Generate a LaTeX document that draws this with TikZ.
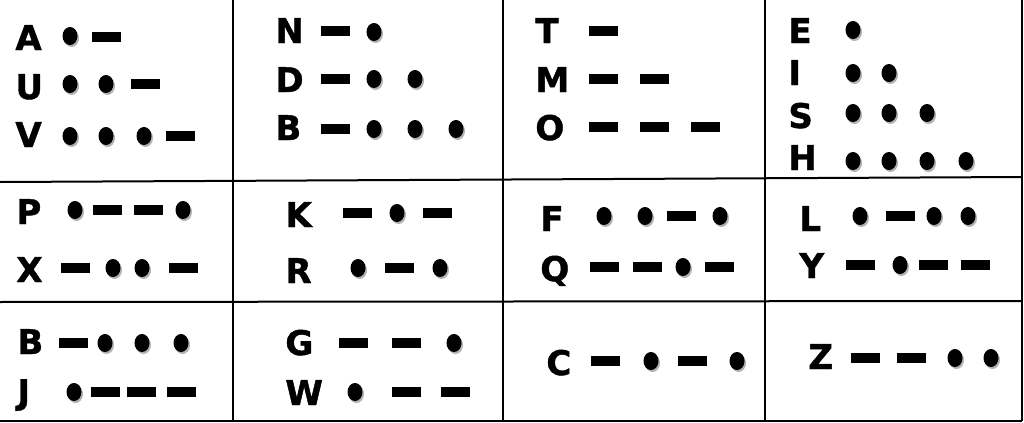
\documentclass[tikz,border=0pt]{standalone}
\usepackage{fontspec}
\newfontfamily\morsefont[BoldFeatures={FakeBold=1.3}]{DejaVu Sans}
\usepackage{tikz}

\begin{document}
\begin{tikzpicture}[x=0.5pt, y=-0.5pt]

\def\rx{7.5}  % half width of a dot
\def\ry{9.0}  % half height of a dot
\def\dl{14.5} % half length of a dash
\def\dh{5.0}  % half thickness of a dash

\tikzset{mdot/.pic = {\fill[black!30] (1.5, 2.0) ellipse [x radius=\rx, y radius=\ry];
                      \fill[black]    (0, 0) ellipse [x radius=\rx, y radius=\ry]; }
        }

\tikzset{mdash/.pic = {\fill[black] (-\dl, -\dh) rectangle (\dl, \dh); }
        }

\tikzset{key/.style = {font={\morsefont\bfseries\fontsize{17}{18}\selectfont},
                       inner sep=0pt, anchor=base west}
        }

\useasboundingbox (0, 0) rectangle (1024, 423);

% grid
\draw[line width=1pt] (233, 0) -- (233, 421);
\draw[line width=1pt] (503, 0) -- (503, 421);
\draw[line width=1pt] (765, 0) -- (765, 421);
\draw[line width=1pt] (1022, 0) -- (1022, 421);
\draw[line width=1pt] (0, 182) -- (1022, 177);
\draw[line width=1pt] (0, 302) -- (1022, 301);
\draw[line width=1pt] (0, 421) -- (1022, 421);

% first row
\node[key] (lA) at ( 15, 50) {A};
\path (70, 36) pic{mdot} (106, 37) pic{mdash};
\node[key] (lU) at ( 15, 99) {U};
\path (70, 84) pic{mdot} (106, 84) pic{mdot} (145, 84) pic{mdash};
\node[key] (lV) at ( 15,147) {V};
\path (70,136) pic{mdot} (106,136) pic{mdot} (144,136) pic{mdot} (180,136) pic{mdash};

\node[key] (lN) at (275, 43) {N};
\path (335, 31) pic{mdash} (374, 32) pic{mdot};
\node[key] (lD) at (275, 92) {D};
\path (335, 79) pic{mdash} (374, 79) pic{mdot} (415, 79) pic{mdot};
\node[key] (lBa) at (275,140) {B};
\path (335,129) pic{mdash} (374,129) pic{mdot} (415,129) pic{mdot} (456,129) pic{mdot};

\node[key] (lT) at (535, 43) {T};
\path (603, 31) pic{mdash};
\node[key] (lM) at (535, 92) {M};
\path (603, 79) pic{mdash} (654, 79) pic{mdash};
\node[key] (lO) at (535,140) {O};
\path (603,127) pic{mdash} (654,127) pic{mdash} (705,127) pic{mdash};

\node[key] (lE) at (788, 43) {E};
\path (853, 30) pic{mdot};
\node[key] (lI) at (788, 85) {I};
\path (853, 73) pic{mdot} (889, 73) pic{mdot};
\node[key] (lS) at (788,128) {S};
\path (853,113) pic{mdot} (889,113) pic{mdot} (927,113) pic{mdot};
\node[key] (lH) at (788,170) {H};
\path (853,161) pic{mdot} (889,161) pic{mdot} (927,161) pic{mdot} (966,161) pic{mdot};

% second row
\node[key] (lP) at ( 16,224) {P};
\path (75,210) pic{mdot} (107,210) pic{mdash} (148,210) pic{mdash} (183,210) pic{mdot};
\node[key] (lX) at ( 16,282) {X};
\path (75,268) pic{mdash} (113,268) pic{mdot} (142,268) pic{mdot} (183,268) pic{mdash};

\node[key] (lK) at (285,227) {K};
\path (357,213) pic{mdash} (397,213) pic{mdot} (437,213) pic{mdash};
\node[key] (lR) at (285,283) {R};
\path (358,268) pic{mdot} (399,268) pic{mdash} (440,268) pic{mdot};

\node[key] (lF) at (540,231) {F};
\path (604,216) pic{mdot} (645,216) pic{mdot} (681,216) pic{mdash} (720,216) pic{mdot};
\node[key] (lQ) at (540,281) {Q};
\path (604,267) pic{mdash} (647,267) pic{mdash} (683,267) pic{mdot} (719,267) pic{mdash};

\node[key] (lL) at (799,231) {L};
\path (860,216) pic{mdot} (900,216) pic{mdash} (934,216) pic{mdot} (968,216) pic{mdot};
\node[key] (lY) at (799,278) {Y};
\path (860,265) pic{mdash} (900,265) pic{mdot} (933,265) pic{mdash} (975,265) pic{mdash};

% third row
\node[key] (lBb) at ( 17,354) {B};
\path (73,343) pic{mdash} (105,343) pic{mdot} (142,343) pic{mdot} (181,343) pic{mdot};
\node[key] (lJ) at ( 17,404) {J};
\path (74,392) pic{mdot} (105,392) pic{mdash} (141,392) pic{mdash} (181,392) pic{mdash};

\node[key] (lG) at (285,355) {G};
\path (353,343) pic{mdash} (406,343) pic{mdash} (454,343) pic{mdot};
\node[key] (lW) at (285,405) {W};
\path (355,392) pic{mdot} (406,392) pic{mdash} (455,392) pic{mdash};

\node[key] (lC) at (546,375) {C};
\path (605,361) pic{mdash} (651,361) pic{mdot} (692,361) pic{mdash} (737,361) pic{mdot};

\node[key] (lZ) at (808,369) {Z};
\path (865,358) pic{mdash} (911,358) pic{mdash} (955,358) pic{mdot} (991,358) pic{mdot};

\end{tikzpicture}
\end{document}
